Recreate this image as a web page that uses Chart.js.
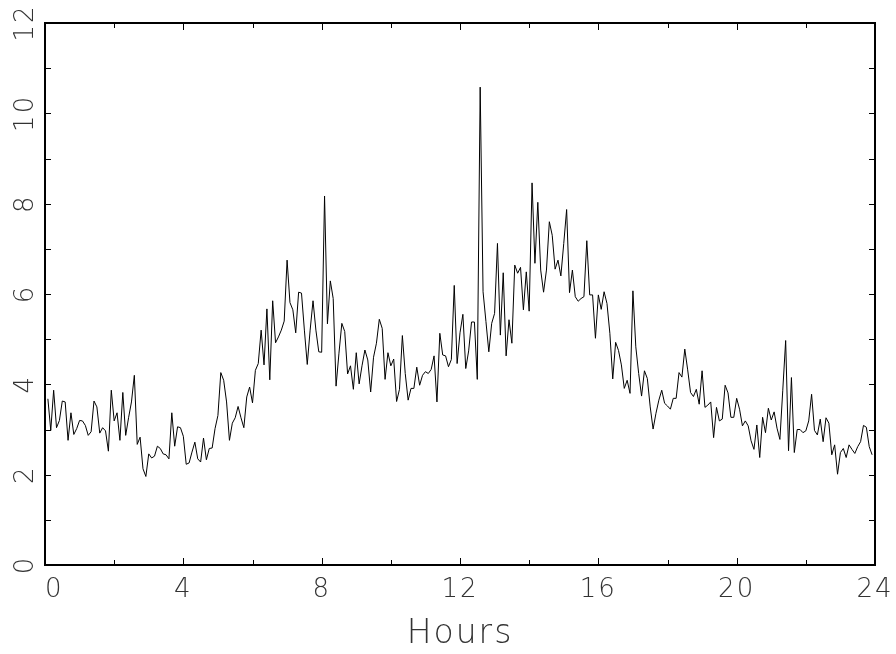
<!DOCTYPE html>
<html>
<head>
<meta charset="utf-8">
<script src="https://cdn.jsdelivr.net/npm/chart.js@4/dist/chart.umd.min.js"></script>
<style>
  html, body { margin: 0; padding: 0; background: #fff; }
  #wrap { width: 896px; height: 654px; position: relative; }
</style>
</head>
<body>
<div id="wrap"><canvas id="c" width="896" height="654"></canvas></div>
<script>
// ---- data (5-minute samples, first at 00:05) ----
const firstMinute = 5;
const stepMinutes = 5;
const values = [
  3.68, 2.98, 3.87, 3.04, 3.20, 3.63, 3.61, 2.76, 3.37, 2.89,
  3.02, 3.20, 3.19, 3.09, 2.87, 2.95, 3.63, 3.50, 2.92, 3.04,
  2.97, 2.52, 3.87, 3.19, 3.37, 2.76, 3.82, 2.87, 3.26, 3.61,
  4.20, 2.67, 2.83, 2.13, 1.96, 2.46, 2.37, 2.41, 2.63, 2.58,
  2.46, 2.44, 2.35, 3.37, 2.63, 3.06, 3.04, 2.85, 2.23, 2.26,
  2.50, 2.72, 2.35, 2.28, 2.81, 2.33, 2.58, 2.59, 3.02, 3.31,
  4.26, 4.09, 3.61, 2.76, 3.14, 3.26, 3.51, 3.26, 3.04, 3.72,
  3.94, 3.59, 4.31, 4.46, 5.20, 4.43, 5.67, 4.10, 5.85, 4.92,
  5.05, 5.20, 5.40, 6.75, 5.81, 5.65, 5.14, 6.04, 6.02, 5.20,
  4.44, 5.20, 5.85, 5.20, 4.72, 4.71, 8.17, 5.34, 6.29, 5.90,
  3.96, 4.69, 5.35, 5.17, 4.23, 4.41, 3.89, 4.70, 4.01, 4.41,
  4.76, 4.54, 3.83, 4.60, 4.91, 5.44, 5.24, 4.11, 4.70, 4.41,
  4.56, 3.62, 3.89, 5.08, 4.24, 3.65, 3.91, 3.91, 4.38, 3.98,
  4.20, 4.28, 4.24, 4.33, 4.63, 3.61, 5.13, 4.65, 4.63, 4.39,
  4.55, 6.19, 4.46, 5.14, 5.55, 4.35, 4.74, 5.38, 5.38, 4.11,
  10.58, 6.05, 5.39, 4.72, 5.35, 5.57, 7.12, 5.09, 6.47, 4.63,
  5.43, 4.91, 6.64, 6.46, 6.59, 5.65, 6.49, 5.62, 8.46, 6.68,
  8.03, 6.53, 6.04, 6.53, 7.60, 7.30, 6.55, 6.75, 6.40, 7.12,
  7.87, 6.03, 6.53, 5.94, 5.84, 5.90, 5.94, 7.18, 5.98, 5.98,
  5.02, 5.98, 5.66, 6.05, 5.79, 5.13, 4.12, 4.93, 4.75, 4.43,
  3.91, 4.09, 3.80, 6.07, 4.83, 4.24, 3.74, 4.30, 4.13, 3.50,
  3.01, 3.36, 3.65, 3.87, 3.58, 3.52, 3.45, 3.69, 3.69, 4.26,
  4.16, 4.78, 4.32, 3.82, 3.73, 3.89, 3.56, 4.30, 3.49, 3.54,
  3.61, 2.82, 3.49, 3.19, 3.23, 3.98, 3.81, 3.27, 3.27, 3.69,
  3.45, 3.08, 3.19, 3.08, 2.75, 2.56, 3.10, 2.38, 3.27, 2.93,
  3.47, 3.21, 3.39, 3.03, 2.78, 3.87, 4.97, 2.53, 4.15, 2.49,
  3.00, 3.00, 2.93, 2.97, 3.19, 3.78, 2.98, 2.88, 3.23, 2.73,
  3.26, 3.14, 2.44, 2.66, 2.01, 2.49, 2.58, 2.38, 2.66, 2.56,
  2.47, 2.62, 2.73, 3.09, 3.05, 2.62, 2.44
];
const xTickLabels = ['0', '4', '8', '12', '16', '20', '24'];
const yTickLabels = ['0', '2', '4', '6', '8', '10', '12'];
const xTitle = 'Hours';

const points = values.map((v, i) => ({ x: (firstMinute + i * stepMinutes) / 60, y: v }));

const FONT = '"DejaVu Sans", sans-serif';
const TXT = '#333';

const framePlugin = {
  id: 'frame',
  beforeLayout(chart) { chart.ctx.letterSpacing = '2px'; },
  beforeDraw(chart) { chart.ctx.letterSpacing = '2px'; },
  afterDraw(chart) {
    const { ctx, chartArea: { left, right, top, bottom }, scales: { x, y } } = chart;
    ctx.save();
    ctx.strokeStyle = '#000';
    ctx.lineWidth = 1;
    ctx.beginPath();
    for (const t of x.ticks) {
      const px = Math.round(x.getPixelForValue(t.value)) + 0.5;
      const len = (t.value % 4 === 0) ? 7 : 5;
      ctx.moveTo(px, bottom); ctx.lineTo(px, bottom - len);
      ctx.moveTo(px, top); ctx.lineTo(px, top + len);
    }
    for (const t of y.ticks) {
      const py = Math.round(y.getPixelForValue(t.value)) + 0.5;
      ctx.moveTo(left, py); ctx.lineTo(left + 6, py);
      ctx.moveTo(right, py); ctx.lineTo(right - 6, py);
    }
    ctx.stroke();
    ctx.lineWidth = 2;
    ctx.strokeRect(left, top, right - left, bottom - top);
    ctx.restore();
  }
};

new Chart(document.getElementById('c'), {
  type: 'line',
  data: {
    datasets: [{
      data: points,
      borderColor: '#000',
      borderWidth: 1,
      pointRadius: 0,
      tension: 0,
      fill: false
    }]
  },
  options: {
    responsive: false,
    animation: false,
    devicePixelRatio: 1,
    layout: { padding: { left: 0, right: 21, top: 23, bottom: 0 } },
    plugins: { legend: { display: false }, tooltip: { enabled: false } },
    scales: {
      x: {
        type: 'linear',
        min: 0, max: 24,
        afterFit(s) { s.height = 89; s.paddingLeft = 0; s.paddingRight = 0; },
        grid: { display: false, drawTicks: false },
        border: { display: false },
        ticks: {
          stepSize: 2,
          autoSkip: false,
          maxRotation: 0,
          padding: 10,
          color: TXT,
          font: { family: FONT, size: 26, weight: '200' },
          callback(v) {
            if (v % 4 !== 0) return '';
            const s = xTickLabels[v / 4];
            return v === 0 ? '\u2007' + s : s;
          }
        },
        title: {
          display: true,
          text: xTitle,
          color: TXT,
          font: { family: FONT, size: 33, weight: '200' },
          padding: { top: 15, bottom: 0 }
        }
      },
      y: {
        min: 0, max: 12,
        afterFit(s) { s.width = 45; s.paddingTop = 0; s.paddingBottom = 0; },
        grid: { display: false, drawTicks: false },
        border: { display: false },
        ticks: {
          stepSize: 1,
          autoSkip: false,
          minRotation: 90,
          maxRotation: 90,
          crossAlign: 'center',
          padding: 0,
          color: TXT,
          font: { family: FONT, size: 26, weight: '200' },
          callback(v) { return v % 2 === 0 ? yTickLabels[v / 2] : ''; }
        }
      }
    }
  },
  plugins: [framePlugin]
});
</script>
</body>
</html>
